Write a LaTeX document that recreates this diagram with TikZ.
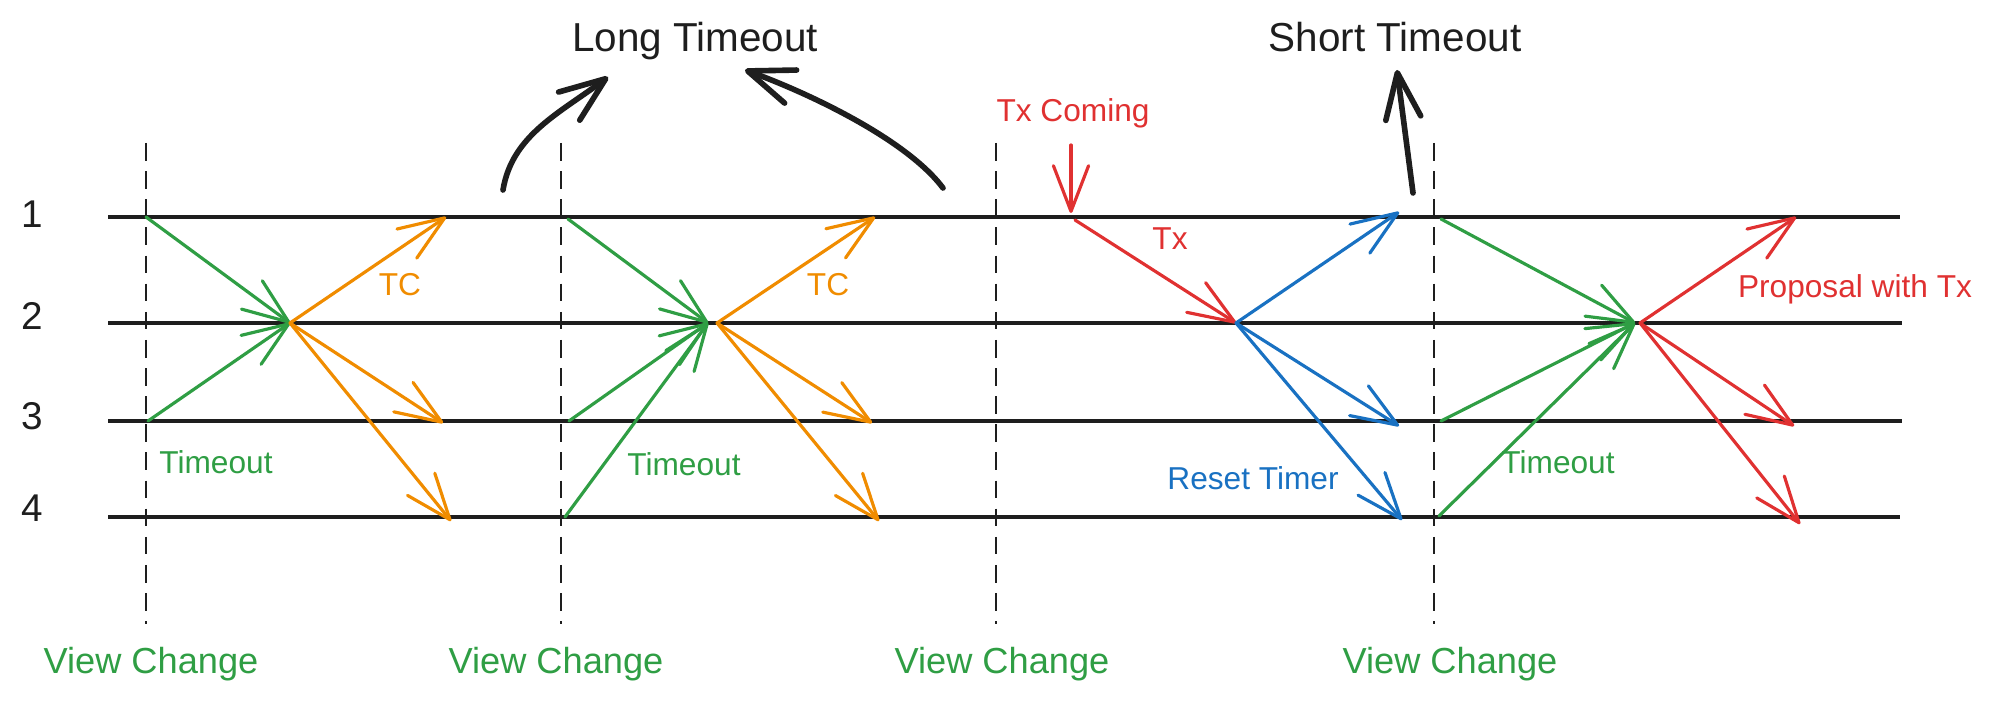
\documentclass[tikz,border=0pt]{standalone}
\usepackage{fontspec}
\setmainfont{Liberation Sans}
\usetikzlibrary{arrows.meta}
\definecolor{vgreen}{HTML}{2F9E44}
\definecolor{vorange}{HTML}{F08C00}
\definecolor{vred}{HTML}{E03131}
\definecolor{vblue}{HTML}{1971C2}
\definecolor{ink}{HTML}{1E1E1E}
\begin{document}
\begin{tikzpicture}[x=0.01cm,y=-0.01cm,
  lane/.style={draw=ink,line width=1pt},
  vcline/.style={draw=ink,line width=0.75pt,dash pattern=on 5pt off 3pt},
  msg/.style={line width=0.9pt,line cap=round,-{Straight Barb[length=13pt,width=10pt,round]}},
  bigmsg/.style={draw=ink,line width=1.6pt,line cap=round,-{Straight Barb[length=13pt,width=10pt,round]}},
  big/.style={font=\fontsize{11.5}{13}\selectfont,text=ink,anchor=base,inner sep=0pt},
  vclabel/.style={font=\fontsize{10.3}{12}\selectfont,text=vgreen,anchor=base,inner sep=0pt},
  small/.style={font=\fontsize{9}{11}\selectfont,anchor=base,inner sep=0pt},
  lanelabel/.style={font=\fontsize{11}{13}\selectfont,text=ink,anchor=base,inner sep=0pt}]
\useasboundingbox (0,0) rectangle (2000,704);
% lanes
\coordinate (L1w) at (108,217); \coordinate (L1e) at (1900,217);
\coordinate (L2w) at (108,323); \coordinate (L2e) at (1902,323);
\coordinate (L3w) at (108,421); \coordinate (L3e) at (1902,421);
\coordinate (L4w) at (108,517); \coordinate (L4e) at (1900,517);
\draw[lane] (L1w) -- (L1e);
\draw[lane] (L2w) -- (L2e);
\draw[lane] (L3w) -- (L3e);
\draw[lane] (L4w) -- (L4e);
\node[lanelabel] (n1) at (32,228) {1};
\node[lanelabel] (n2) at (32,330) {2};
\node[lanelabel] (n3) at (32,430) {3};
\node[lanelabel] (n4) at (32,522) {4};
% view change dashed lines
\foreach \i/\x in {1/146,2/561,3/996,4/1434}{
  \coordinate (V\i t) at (\x,143); \coordinate (V\i b) at (\x,624);
  \draw[vcline] (V\i t) -- (V\i b);
}
\node[vclabel] (vc1) at (151,674) {View Change};
\node[vclabel] (vc2) at (556,674) {View Change};
\node[vclabel] (vc3) at (1002,674) {View Change};
\node[vclabel] (vc4) at (1450,674) {View Change};
% block 1
\coordinate (a1) at (146,217); \coordinate (a3) at (148,421);
\coordinate (ah) at (290,323);
\coordinate (ao1) at (446,217); \coordinate (ao3) at (443,423); \coordinate (ao4) at (451,521);
\draw[msg,vgreen] (a1) -- (ah);
\draw[msg,vgreen] (a3) -- (ah);
\draw[msg,vorange] (ah) -- (ao1);
\draw[msg,vorange] (ah) -- (ao3);
\draw[msg,vorange] (ah) -- (ao4);
\node[small,text=vorange] (tc1) at (400,296) {TC};
\node[small,text=vgreen] (to1) at (216,474) {Timeout};
% block 2
\coordinate (b1) at (568,219); \coordinate (b3) at (569,421); \coordinate (b4) at (565,517);
\coordinate (bh) at (708,323); \coordinate (bs) at (717,323);
\coordinate (bo1) at (875,217); \coordinate (bo3) at (872,423); \coordinate (bo4) at (879,521);
\draw[msg,vgreen] (b1) -- (bh);
\draw[msg,vgreen] (b3) -- (bh);
\draw[msg,vgreen] (b4) -- (bh);
\draw[msg,vorange] (bs) -- (bo1);
\draw[msg,vorange] (bs) -- (bo3);
\draw[msg,vorange] (bs) -- (bo4);
\node[small,text=vorange] (tc2) at (828,296) {TC};
\node[small,text=vgreen] (to2) at (684,476) {Timeout};
% long timeout
\node[big] (lt) at (695,52) {Long Timeout};
\coordinate (lts1) at (503,190); \coordinate (ltt1) at (608,77);
\coordinate (lts2) at (943,188); \coordinate (ltt2) at (745,70);
\draw[bigmsg] (lts1) .. controls (512,135) and (560,113) .. (ltt1);
\draw[bigmsg] (lts2) .. controls (907,140) and (811,94) .. (ltt2);
% block 3
\node[small,text=vred] (txc) at (1073,122) {Tx Coming};
\coordinate (txs) at (1071,145); \coordinate (txt) at (1071,213);
\draw[msg,vred] (txs) -- (txt);
\coordinate (c1) at (1075,220); \coordinate (ch) at (1236,323);
\coordinate (co1) at (1399,212); \coordinate (co3) at (1399,426); \coordinate (co4) at (1402,520);
\draw[msg,vred] (c1) -- (ch);
\draw[msg,vblue] (ch) -- (co1);
\draw[msg,vblue] (ch) -- (co3);
\draw[msg,vblue] (ch) -- (co4);
\node[small,text=vred] (txl) at (1170,250) {Tx};
\node[small,text=vblue] (rt) at (1253,490) {Reset Timer};
\node[big] (st) at (1395,52) {Short Timeout};
\coordinate (sts) at (1413,193); \coordinate (stt) at (1397,70);
\draw[bigmsg] (sts) -- (stt);
% block 4
\coordinate (d1) at (1441,219); \coordinate (d3) at (1441,421); \coordinate (d4) at (1439,516);
\coordinate (dh) at (1635,323); \coordinate (ds) at (1640,323);
\coordinate (do1) at (1796,217); \coordinate (do3) at (1794,426); \coordinate (do4) at (1800,524);
\draw[msg,vgreen] (d1) -- (dh);
\draw[msg,vgreen] (d3) -- (dh);
\draw[msg,vgreen] (d4) -- (dh);
\draw[msg,vred] (ds) -- (do1);
\draw[msg,vred] (ds) -- (do3);
\draw[msg,vred] (ds) -- (do4);
\node[small,text=vgreen] (to3) at (1558,474) {Timeout};
\node[small,text=vred] (pwt) at (1855,298) {Proposal with Tx};
\end{tikzpicture}
\end{document}
